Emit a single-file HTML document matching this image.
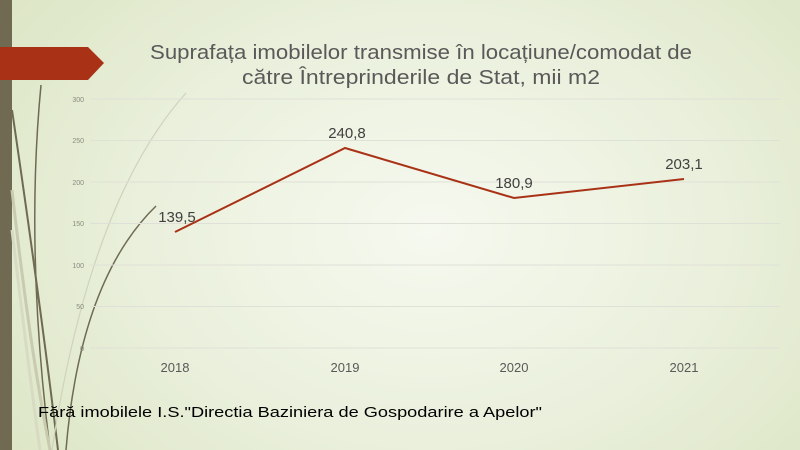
<!DOCTYPE html>
<html><head><meta charset="utf-8"><style>
html,body{margin:0;padding:0}
body{width:800px;height:450px;overflow:hidden;position:relative;font-family:"Liberation Sans",sans-serif;
background:radial-gradient(ellipse 520px 380px at 430px 230px,#f6f9ef 0%,#eaf0dc 55%,#dde6c6 100%);}
</style></head><body>
<svg width="800" height="450" style="position:absolute;left:0;top:0">
<rect x="0" y="0" width="12" height="450" fill="#706a52"/>
<polygon points="0,47 88,47 104,63 88,80 0,80" fill="#a93216"/>
<g fill="none">
<path d="M12,110 Q40,300 58,450" stroke="#6f6a52" stroke-width="2"/>
<path d="M41,85 Q25,250 50,450" stroke="#6f6a52" stroke-width="1.5"/>
<path d="M12,190 Q30,350 50,450" stroke="#c8cbb0" stroke-width="3"/>
<path d="M156,206 Q80,280 66,450" stroke="#6f6a52" stroke-width="1.5"/>
<path d="M186,93 Q90,200 52,450" stroke="#d0d3bb" stroke-width="1.2"/>
<path d="M12,230 Q30,380 40,450" stroke="#d7dbc3" stroke-width="3"/>
</g>
<g stroke="#dfe0d8" stroke-width="1">
<line x1="90" y1="99" x2="780" y2="99"/><line x1="90" y1="140.5" x2="780" y2="140.5"/>
<line x1="90" y1="182" x2="780" y2="182"/><line x1="90" y1="223.5" x2="780" y2="223.5"/>
<line x1="90" y1="265" x2="780" y2="265"/><line x1="90" y1="306.5" x2="780" y2="306.5"/>
<line x1="90" y1="348" x2="780" y2="348"/>
</g>
<g font-size="7" fill="#8a8a80" text-anchor="end">
<text x="84" y="102">300</text><text x="84" y="143">250</text><text x="84" y="185">200</text>
<text x="84" y="226">150</text><text x="84" y="268">100</text><text x="84" y="309">50</text><text x="84" y="351">0</text>
</g>
<polyline points="175,232 345,148 514,198 684,179" fill="none" stroke="#a93216" stroke-width="2"/>
<g font-size="15" fill="#404040" text-anchor="middle">
<text x="177" y="222">139,5</text><text x="347" y="138">240,8</text>
<text x="514" y="188">180,9</text><text x="684" y="169">203,1</text>
</g>
<g font-size="13" fill="#595959" text-anchor="middle">
<text x="175" y="372">2018</text><text x="345" y="372">2019</text>
<text x="514" y="372">2020</text><text x="684" y="372">2021</text>
</g>
<g font-size="20" fill="#595959">
<text x="150" y="59" textLength="542" lengthAdjust="spacingAndGlyphs">Suprafața imobilelor transmise în locațiune/comodat de</text>
<text x="242" y="84" textLength="358" lengthAdjust="spacingAndGlyphs">către Întreprinderile de Stat, mii m2</text>
</g>
<text x="38" y="417" font-size="14.5" fill="#000" textLength="504" lengthAdjust="spacingAndGlyphs">Fără imobilele I.S."Directia Baziniera de Gospodarire a Apelor"</text>
</svg>
</body></html>
